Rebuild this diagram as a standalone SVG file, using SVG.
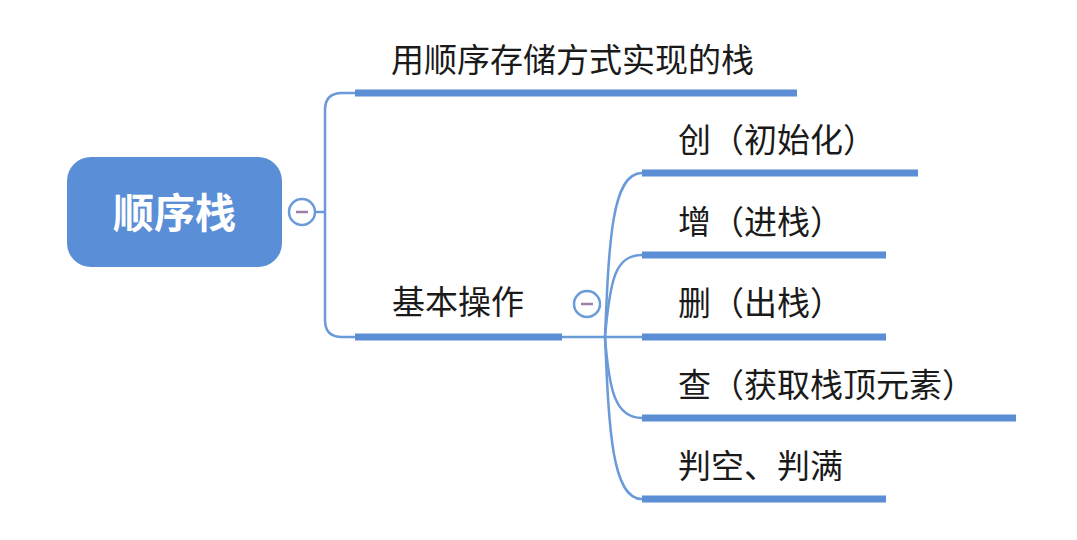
<svg xmlns="http://www.w3.org/2000/svg" width="1077" height="540" viewBox="0 0 1077 540">
<style>
.t{font-family:"Noto Sans CJK SC","Noto Sans",sans-serif;font-size:33px;fill:#1a1a1a}
.root{font-family:"Noto Sans CJK SC","Noto Sans",sans-serif;font-size:41px;font-weight:bold;fill:#ffffff}
.bar{stroke:#5b8ed5;stroke-width:7;fill:none}
.con{stroke:#6a9ad8;stroke-width:2.5;fill:none}
.btn{fill:#ffffff;stroke:#6a9ad8;stroke-width:2.5}
.minus{stroke:#9b7fa6;stroke-width:2.5}
</style>
<rect width="1077" height="540" fill="#ffffff"/>
<g id="connectors">
<path class="con" d="M315 212 H325"/>
<path class="con" d="M325 212 V110 Q325 93 342 93 H356"/>
<path class="con" d="M325 212 V320 Q325 337 342 337 H356"/>
<path class="con" d="M562 337 H642"/>
<path class="con" d="M605 337 C609 240 612 173 642 173"/>
<path class="con" d="M605 337 C610 280 615 255 642 255"/>
<path class="con" d="M605 337 C609 390 615 418 642 418"/>
<path class="con" d="M605 337 C609 430 612 499 642 499"/>
</g>
<g id="root">
<rect x="67" y="157" width="215" height="110" rx="24" fill="#5a8ed6"/>
<text class="root" x="174.5" y="228" text-anchor="middle">顺序栈</text>
<circle class="btn" cx="302" cy="212" r="13"/>
<path class="minus" d="M296 212 H308"/>
</g>
<g id="n1">
<text class="t" x="391" y="72">用顺序存储方式实现的栈</text>
<path class="bar" d="M355 93 H797"/>
</g>
<g id="n2">
<text class="t" x="392" y="314">基本操作</text>
<path class="bar" d="M355 337 H562"/>
<circle class="btn" cx="587" cy="304" r="13"/>
<path class="minus" d="M581 304 H593"/>
</g>
<g id="c1">
<text class="t" x="678" y="152">创（初始化）</text>
<path class="bar" d="M642 173 H918"/>
</g>
<g id="c2">
<text class="t" x="678" y="234">增（进栈）</text>
<path class="bar" d="M642 255 H886"/>
</g>
<g id="c3">
<text class="t" x="678" y="315">删（出栈）</text>
<path class="bar" d="M642 337 H886"/>
</g>
<g id="c4">
<text class="t" x="678" y="397">查（获取栈顶元素）</text>
<path class="bar" d="M642 418 H1016"/>
</g>
<g id="c5">
<text class="t" x="678" y="478">判空、判满</text>
<path class="bar" d="M642 499 H886"/>
</g>
</svg>
